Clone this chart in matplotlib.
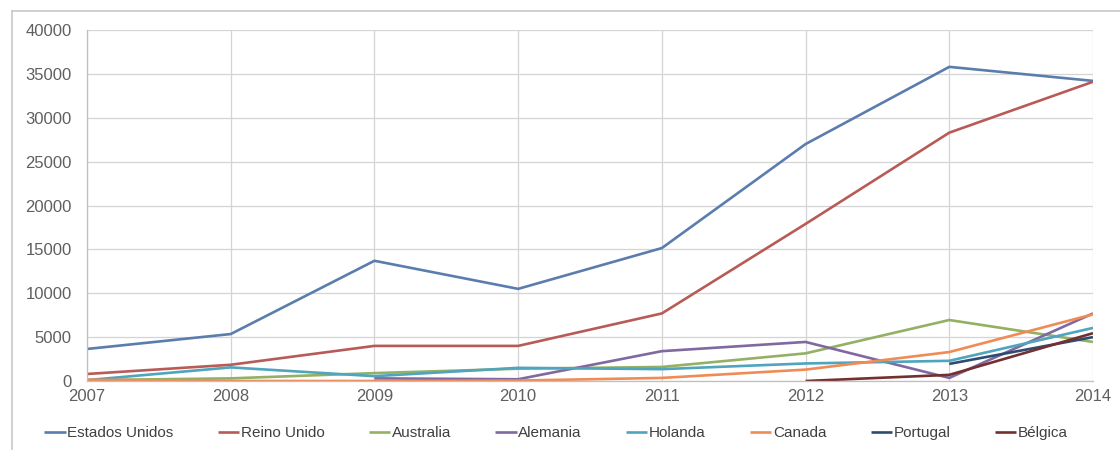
import numpy as np
import matplotlib
matplotlib.use('Agg')
import matplotlib.pyplot as plt
from matplotlib.lines import Line2D

# data
years = [2007, 2008, 2009, 2010, 2011, 2012, 2013, 2014]
estados_unidos = [3650, 5350, 13700, 10500, 15150, 27000, 35800, 34200]
reino_unido = [800, 1850, 4000, 4000, 7700, 17900, 28300, 34100]
australia = [100, 300, 900, 1400, 1600, 3150, 6950, 4450]
alemania = [np.nan, np.nan, 300, 200, 3400, 4450, 350, 7700]
holanda = [100, 1550, 550, 1500, 1350, 2000, 2300, 6050]
canada = [150, 0, 0, 50, 350, 1300, 3300, 7600]
portugal = [np.nan, np.nan, np.nan, np.nan, np.nan, np.nan, 1950, 5000]
belgica = [np.nan, np.nan, np.nan, np.nan, np.nan, 0, 700, 5450]

series = [('Estados Unidos', estados_unidos, '#5A7DAE'),
          ('Reino Unido', reino_unido, '#B85B57'),
          ('Australia', australia, '#93B064'),
          ('Alemania', alemania, '#8068A0'),
          ('Holanda', holanda, '#4FA4BE'),
          ('Canada', canada, '#F08B55'),
          ('Portugal', portugal, '#2F4C70'),
          ('Bélgica', belgica, '#73302F')]

plt.rcParams['font.family'] = ['Liberation Sans', 'DejaVu Sans']

fig = plt.figure(figsize=(11.2, 4.5), dpi=100)
ax = fig.add_axes([87/1120, 1 - 381/450, (1093 - 87)/1120, (381 - 30)/450])

for name, vals, col in series:
    ax.plot(years, vals, color=col, linewidth=1.9, label=name, solid_capstyle='butt')

ax.set_xlim(2007, 2014)
ax.set_ylim(0, 40000)
ax.set_xticks(years)
ax.set_yticks(np.arange(0, 40001, 5000))
ax.grid(True, color='#D4D4D4', linewidth=0.9)
ax.set_axisbelow(True)
for s in ['top', 'right']:
    ax.spines[s].set_visible(False)
for s in ['left', 'bottom']:
    ax.spines[s].set_color('#BFBFBF')
    ax.spines[s].set_linewidth(0.9)
ax.tick_params(axis='both', length=0, labelsize=12, labelcolor='#5F5F5F')
ax.tick_params(axis='y', pad=11)
ax.tick_params(axis='x', pad=6)

leg = fig.legend(loc='center', bbox_to_anchor=(556/1120, 1 - 433/450), ncol=8,
                 frameon=False, handlelength=1.4, handletextpad=0.1, columnspacing=2.9,
                 prop={'family': ['Liberation Sans Narrow', 'Liberation Sans', 'DejaVu Sans'], 'size': 11})
for t in leg.get_texts():
    t.set_color('#404040')

# outer chart frame
fig.add_artist(Line2D([12/1120, 12/1120], [0, 1 - 11/450], color='#C8C8C8', linewidth=1.2))
fig.add_artist(Line2D([12/1120, 1], [1 - 11/450, 1 - 11/450], color='#C8C8C8', linewidth=1.2))

fig.savefig('out.png', dpi=100)
